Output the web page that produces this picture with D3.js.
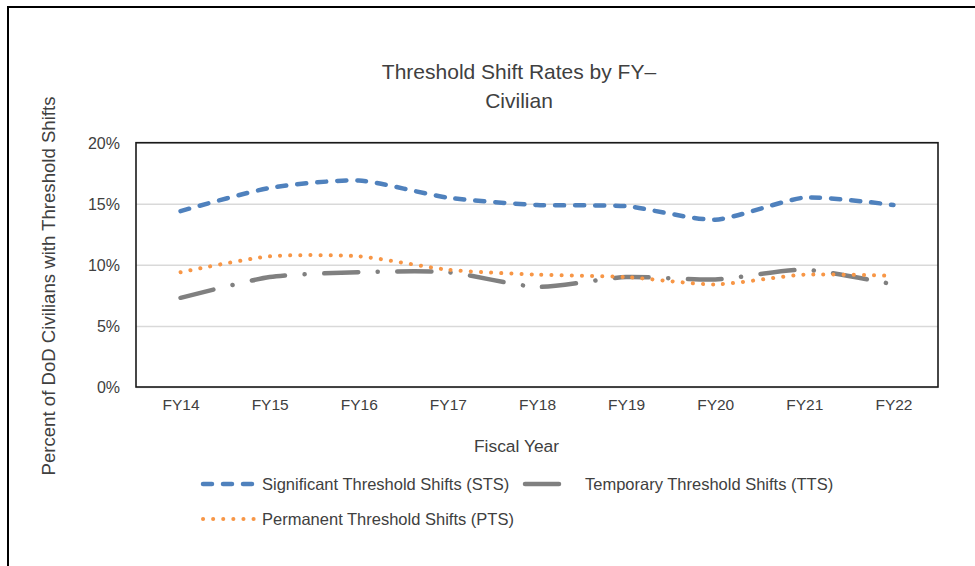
<!DOCTYPE html>
<html><head><meta charset="utf-8">
<script src="https://cdn.jsdelivr.net/npm/d3@7"></script>
<style>
body{margin:0;background:#fff}
svg{display:block}
text{font-family:"Liberation Sans",Arial,sans-serif;fill:#404040}
</style>
</head><body>
<svg id="c" width="975" height="566"></svg>
<script>
const categories = ["FY14","FY15","FY16","FY17","FY18","FY19","FY20","FY21","FY22"];
const stsValues = [14.4,16.3,16.9,15.5,14.9,14.8,13.7,15.5,14.9];
const ttsValues = [7.3,9.0,9.4,9.4,8.2,9.0,8.8,9.6,8.4];
const ptsValues = [9.4,10.7,10.7,9.6,9.2,9.0,8.4,9.2,9.1];
const yTicks = [0,5,10,15,20];
const seriesNames = ["Significant Threshold Shifts (STS)","Temporary Threshold Shifts (TTS)","Permanent Threshold Shifts (PTS)"];
const titleLines = ["Threshold Shift Rates by FY\u2013","Civilian"];
const xTitle = "Fiscal Year";
const yTitle = "Percent of DoD Civilians with Threshold Shifts";

const svg = d3.select("#c");
const m = {left:136, right:938, top:142.7, bottom:387};

// outer frame
svg.append("rect").attr("x",8).attr("y",7).attr("width",990).attr("height",600)
  .attr("fill","none").attr("stroke","#000").attr("stroke-width",2);

const x = d3.scalePoint().domain(categories).range([m.left,m.right]).padding(0.5);
const y = d3.scaleLinear().domain([0,20]).range([m.bottom,m.top]);

// gridlines
const gridAxis = d3.axisLeft(y).tickValues(yTicks).tickSize(-(m.right-m.left)).tickFormat("");
const grid = svg.append("g").attr("transform",`translate(${m.left},0)`).call(gridAxis);
grid.select(".domain").remove();
grid.selectAll("line").attr("stroke","#d9d9d9").attr("stroke-width",1.5);

// y tick labels
const yAxis = d3.axisLeft(y).tickValues(yTicks).tickSize(0).tickPadding(0).tickFormat(d=>d+"%");
const ya = svg.append("g").attr("transform","translate(120,0)").call(yAxis);
ya.select(".domain").remove();
ya.selectAll("text").attr("font-size",16).attr("fill","#404040")
  .attr("font-family",'"Liberation Sans",Arial,sans-serif').attr("dy","0.35em");

// x tick labels
const xAxis = d3.axisBottom(x).tickSize(0).tickPadding(0);
const xa = svg.append("g").attr("transform","translate(0,405)").call(xAxis);
xa.select(".domain").remove();
xa.selectAll("text").attr("font-size",15.5).attr("fill","#404040")
  .attr("font-family",'"Liberation Sans",Arial,sans-serif').attr("dy","0.35em");

// plot border
svg.append("rect").attr("x",m.left).attr("y",m.top).attr("width",m.right-m.left).attr("height",m.bottom-m.top)
  .attr("fill","none").attr("stroke","#1a1a1a").attr("stroke-width",1.6);

const series = [
  {name:seriesNames[0], values:stsValues, color:"#4F81BD", width:4.5, dash:"9,11", cap:"round"},
  {name:seriesNames[1], values:ttsValues, color:"#808080", width:4.5, dash:"34,19.5,0.1,19.5", cap:"round"},
  {name:seriesNames[2], values:ptsValues, color:"#F79646", width:4, dash:"0.1,10", cap:"round"}
];

const line = d3.line().x((d,i)=>x(categories[i])).y(d=>y(d)).curve(d3.curveCardinal.tension(0.35));

series.forEach(s=>{
  svg.append("path").datum(s.values).attr("d",line)
    .attr("fill","none").attr("stroke",s.color).attr("stroke-width",s.width)
    .attr("stroke-dasharray",s.dash).attr("stroke-linecap",s.cap);
});

// title
const t = svg.append("text").attr("text-anchor","middle").attr("font-size",21).attr("fill","#333");
titleLines.forEach((l,i)=>t.append("tspan").attr("x",519).attr("y",79+i*29).text(l));

// axis titles
svg.append("text").attr("x",516.5).attr("y",452).attr("text-anchor","middle").attr("font-size",17.4).text(xTitle);
svg.append("text").attr("transform","translate(55,286) rotate(-90)").attr("text-anchor","middle")
  .attr("font-size",18.6).text(yTitle);

// legend
const legendPos = [{x:201,y:484,tx:262},{x:523,y:484,tx:585,len:40},{x:201,y:519,tx:262}];
series.forEach((s,i)=>{
  const p = legendPos[i];
  const len = p.len || 54;
  svg.append("line").attr("x1",p.x).attr("x2",p.x+len).attr("y1",p.y).attr("y2",p.y)
    .attr("stroke",s.color).attr("stroke-width",s.width).attr("stroke-dasharray",s.dash).attr("stroke-linecap",s.cap)
    .attr("transform", "translate(2,0)");
  svg.append("text").attr("x",p.tx).attr("y",p.y).attr("dy","0.35em").attr("font-size",16.5).text(s.name);
});
</script>
</body></html>
